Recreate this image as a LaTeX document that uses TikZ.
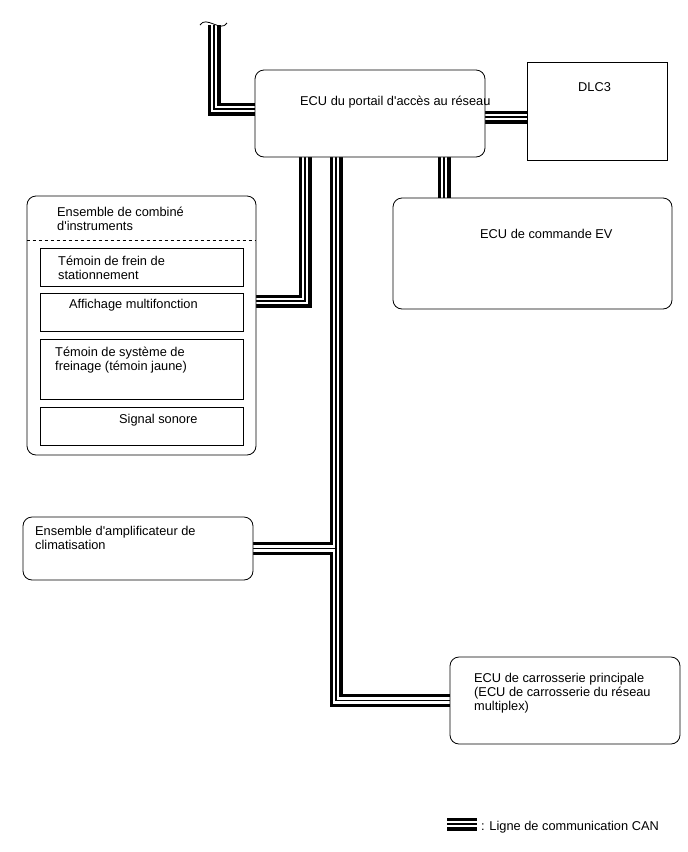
\documentclass[tikz,border=0pt]{standalone}
\usepackage{fontspec}
\setmainfont{Liberation Sans}[Ligatures=TeXOff]
\usetikzlibrary{backgrounds}

\tikzset{
  ecubox/.style={draw, rounded corners=9pt, fill=white, line width=0.8pt, inner sep=0pt},
  partbox/.style={draw, fill=white, line width=0.8pt, inner sep=0pt},
  txt/.style={inner sep=0pt, anchor=north west, align=left, font=\fontsize{12.8}{14}\selectfont},
  canouter/.style={line width=13pt, black, line join=miter},
  canmid/.style={line width=6.6pt, white, line join=miter},
  caninner/.style={line width=1.2pt, black, line join=miter},
}

\begin{document}
\begin{tikzpicture}[x=1pt,y=-1pt]
  \useasboundingbox (0,0) rectangle (688,852);
  % ECU boxes
  \node[ecubox,minimum width=230pt,minimum height=87pt] (gw) at (370,113.5) {};
  \node[partbox,minimum width=140pt,minimum height=98pt] (dlc) at (597,111) {};
  \node[ecubox,minimum width=279pt,minimum height=111pt] (ev) at (532.5,253.5) {};
  \node[ecubox,minimum width=229pt,minimum height=259pt] (cmb) at (141.5,325.5) {};
  \node[ecubox,minimum width=230pt,minimum height=63pt] (ac) at (138,548.5) {};
  \node[ecubox,minimum width=230pt,minimum height=87pt] (body) at (565,700.5) {};
  % Combination meter parts
  \node[partbox,minimum width=203pt,minimum height=38pt] (brake) at (141.5,267) {};
  \node[partbox,minimum width=203pt,minimum height=38pt] (multi) at (141.5,312) {};
  \node[partbox,minimum width=203pt,minimum height=60pt] (brsys) at (141.5,369) {};
  \node[partbox,minimum width=203pt,minimum height=38pt] (buzz) at (141.5,426) {};
  \draw[dashed,line width=0.8pt] ([yshift=-45pt]cmb.north west) -- ([yshift=-45pt]cmb.north east);
  % Labels
  \node[txt] (gwtxt) at (300,95.6) {ECU du portail d'accès au réseau};
  \node[txt] (dlctxt) at (578,82) {DLC3};
  \node[txt] (evtxt) at (480,229) {ECU de commande EV};
  \node[txt] (cmbtxt) at (57,206.6) {Ensemble de combiné\\d'instruments};
  \node[txt] (braketxt) at (58,255.6) {Témoin de frein de\\stationnement};
  \node[txt] (multitxt) at (69,298.6) {Affichage multifonction};
  \node[txt] (brsystxt) at (55,346.6) {Témoin de système de\\freinage (témoin jaune)};
  \node[txt] (buzztxt) at (119,413.6) {Signal sonore};
  \node[txt] (actxt) at (35,525.6) {Ensemble d'amplificateur de\\climatisation};
  \node[txt] (bodytxt) at (474,672.6) {ECU de carrosserie principale\\(ECU de carrosserie du réseau\\multiplex)};
  \node[txt] (legtxt) at (481,820.6) {: Ligne de communication CAN};
  % Bus points
  \coordinate (brk) at (214,25);
  \coordinate (gwL) at ([yshift=4.5pt]gw.west);
  \coordinate (gwR) at ([yshift=-3.5pt]gw.east);
  \coordinate (busA) at ([xshift=-65pt]gw.south);
  \coordinate (busB) at ([xshift=-34pt]gw.south);
  \coordinate (busC) at ([xshift=74pt]gw.south);
  \coordinate (cmbR) at ([yshift=24.5pt]cmb.east);
  \coordinate (legA) at (447,824);
  \coordinate (legB) at (477,824);
  % CAN lines, drawn in three passes so the junctions merge
  \newcommand{\canbus}[1]{%
    \draw[#1] (brk) |- (gwL);
    \draw[#1] (gwR) -- (gwR -| dlc.west);
    \draw[#1] (busA) |- (cmbR);
    \draw[#1] (busB) |- (body.west);
    \draw[#1] (ac.east) -- (ac.east -| busB);
    \draw[#1] (busC) -- (busC |- ev.north);
    \draw[#1] (legA) -- (legB);
  }
  \begin{scope}[on background layer]
    \canbus{canouter}
    \canbus{canmid}
    \canbus{caninner}
  \end{scope}
  % Break mark
  \draw[line width=0.8pt] ([xshift=-14pt]brk) .. controls +(6,-10) and +(-6,10) .. ([shift={(13pt,2pt)}]brk);
\end{tikzpicture}
\end{document}
